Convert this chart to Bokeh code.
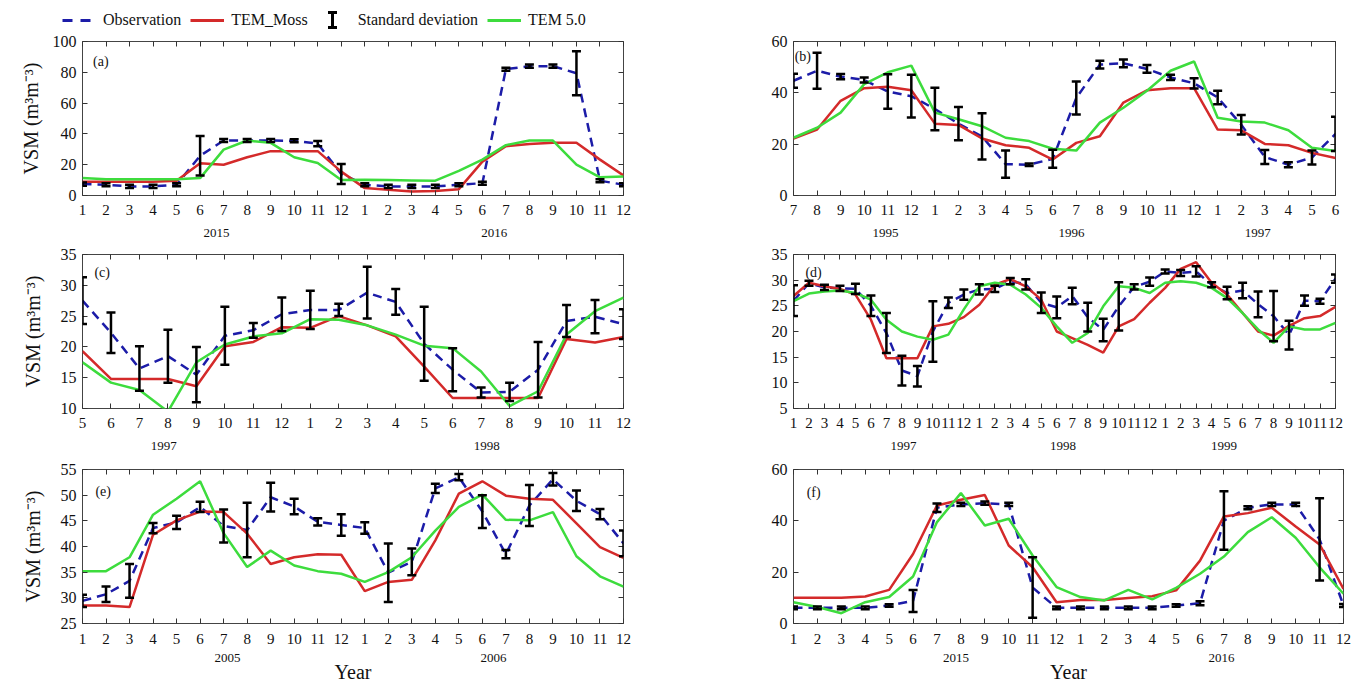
from bokeh.plotting import figure
from bokeh.models import (ColumnDataSource, Whisker, TeeHead, Range1d, LinearAxis,
                          FixedTicker, Label, Legend, LegendItem, Grid)
from bokeh.layouts import column, row
from bokeh.embed import file_html
from bokeh.resources import INLINE

FONT = "Liberation Serif"
OBS_C = "#1c1ca8"
MOSS_C = "#d42a2a"
TEM_C = "#3ddc3d"
YLABEL = "VSM (m³m⁻³)"

# ---------------- data ----------------
M12 = ["1", "2", "3", "4", "5", "6", "7", "8", "9", "10", "11", "12"]

A_months = M12 + M12
A_years = ["2015", "2016"]
A_year_pos = [6.7, 18.5]
A_obs = [7.4, 7, 5.9, 5.9, 7, 25.8, 35.7, 35.7, 35.7, 35.5, 33.7, 14,
         7, 5.9, 5.9, 5.9, 7, 8, 82, 84, 84, 79.4, 9.6, 7]
A_std = [1, 1, 1, 1, 1, 12.8, 1, 1, 1, 1, 1.7, 6.5,
         1, 1, 1, 1, 1, 1, 1, 1, 1, 14.3, 1, 1]
A_moss = [9, 9, 9, 9, 9.5, 21, 20, 24.8, 28.8, 28.8, 28.8, 15.5,
          4.8, 3.7, 2.6, 3, 4.1, 22, 32, 33.5, 34.2, 34.2, 23.3, 13]
A_tem = [11.3, 10.5, 10.5, 10.5, 10.5, 11.3, 29.8, 35.7, 34.2, 24.8, 21.1, 10,
         10.2, 10, 9.8, 9.6, 16, 23.3, 32.7, 35.7, 35.7, 20, 11.8, 12.4]
A_yticks = [0, 20, 40, 60, 80, 100]

B_months = ["7", "8", "9", "10", "11", "12"] + M12 + ["1", "2", "3", "4", "5", "6"]
B_years = ["1995", "1996", "1997"]
B_year_pos = [4.9, 12.8, 20.7]
B_obs = [44.7, 48.6, 46.3, 45, 40.5, 38.7, 33.7, 28, 23, 12.2, 12, 14.3,
         38, 51, 51.5, 49.3, 46, 43.7, 38.2, 27.6, 15, 12, 14.8, 24]
B_std = [2.7, 7, 1, 1, 6.7, 8.3, 8.3, 6.5, 9, 5.3, 0.5, 3.5,
         6.4, 1.5, 1.5, 1.5, 1, 2, 2.6, 3.8, 2.7, 1, 2.7, 6.7]
B_moss = [22.2, 25.7, 36.9, 41.8, 42.4, 41, 28, 27.5, 22.2, 19.6, 18.6, 14,
          20.5, 23.1, 36.2, 41, 41.8, 41.8, 25.7, 25.4, 20.1, 19.6, 16.6, 14.6]
B_tem = [22.5, 26.4, 32.3, 43.4, 48, 50.6, 32.3, 29.7, 27, 22.5, 21.2, 18.2,
         17.5, 28.4, 34.2, 40.8, 48.6, 52.2, 30.3, 28.8, 28.4, 25.4, 18.6, 17.3]
B_yticks = [0, 20, 40, 60]

C_months = ["5", "6", "7", "8", "9", "10", "11", "12"] + M12
C_years = ["1997", "1998"]
C_year_pos = [3.85, 15.2]
C_obs = [27.5, 22.3, 16.5, 18.5, 15.5, 21.8, 22.7, 25.3, 26, 26,
         28.8, 27.3, 20.5, 16.3, 12.6, 12.7, 16.3, 24.2, 24.9, 23.7]
C_std = [3.8, 3.3, 3.6, 4.3, 4.5, 4.7, 1.2, 2.7, 3.1, 1,
         4.2, 2.1, 6, 3.5, 0.8, 1.5, 4.5, 2.6, 2.7, 2.4]
C_moss = [19.3, 14.8, 14.8, 14.8, 13.6, 20.1, 20.8, 23.2, 23.1, 25,
          23.5, 21.7, 16.8, 11.7, 11.7, 11.7, 11.7, 21.3, 20.7, 21.6]
C_tem = [17.5, 14.2, 13, 9.5, 17.5, 20.4, 21.7, 22.2, 24.5, 24.4,
         23.5, 22, 20.2, 19.8, 16, 10.4, 12.8, 22, 25.8, 28]
C_yticks = [10, 15, 20, 25, 30, 35]

D_months = M12 + M12 + M12
D_years = ["1997", "1998", "1999"]
D_year_pos = [8.1, 18.4, 28.8]
D_obs = [26, 29.4, 28.6, 28.4, 28.3, 25, 19.7, 12.4, 11.3, 20, 25.6, 27.2,
         28.2, 28.3, 29.8, 29.2, 25.6, 24.7, 26.9, 22.8, 20.3, 24.9, 28.7, 29.7,
         31.7, 31.4, 31.7, 29.1, 27.5, 28, 25.3, 23, 19.3, 26, 25.9, 30.3]
D_std = [3, 0.5, 0.5, 0.5, 1, 2, 3.9, 2.9, 2, 5.9, 1, 1,
         1, 0.6, 0.6, 1, 2, 2.1, 1.6, 2.8, 2.2, 4.7, 0.5, 0.8,
         0.4, 0.6, 1, 0.5, 1.2, 1.5, 2.5, 4.9, 2.8, 1, 0.5, 0.8]
D_moss = [26.9, 29.5, 28.8, 28.3, 27.2, 22.3, 14.8, 14.8, 14.8, 21, 21.5, 22.8,
          25.2, 29.1, 30.2, 28.8, 26.2, 20, 18.7, 17.4, 15.9, 21, 22.4, 25.6,
          28.5, 32.2, 33.5, 29.5, 27.2, 23.6, 20, 19.2, 21.1, 22.6, 23, 24.8]
D_tem = [25.9, 27.4, 27.8, 28, 27.5, 26.2, 22.3, 20, 19, 18.4, 19.4, 24.3,
         28.8, 29.5, 29.1, 27.2, 24.6, 21, 17.8, 19.7, 24.9, 28.8, 28.5, 27.5,
         29.5, 29.8, 29.5, 28.5, 26.5, 23.6, 20.4, 17.8, 21, 20.4, 20.4, 21.7]
D_yticks = [5, 10, 15, 20, 25, 30, 35]

E_months = M12 + M12
E_years = ["2005", "2006"]
E_year_pos = [7.16, 18.47]
E_obs = [29.4, 30.7, 33.3, 43.6, 44.7, 47.7, 44, 43.2, 49.6, 47.8, 44.8, 44.2,
         43.6, 34.9, 37, 51.3, 53.5, 46.8, 38.5, 48, 53.1, 48.9, 46.3, 40.6]
E_std = [1.2, 1.5, 3.3, 1, 1.3, 1, 3.2, 5.3, 2.8, 1.5, 0.7, 2.1,
         1.1, 5.7, 2.6, 0.9, 0.6, 3.2, 0.8, 4, 1.2, 2, 1, 2.5]
E_moss = [28.5, 28.5, 28.2, 42.3, 45.1, 46.8, 46.7, 42.5, 36.6, 37.9, 38.5, 38.4,
          31.3, 33.1, 33.5, 41.2, 50.3, 52.7, 49.9, 49.3, 49.1, 44.5, 39.9, 37.8]
E_tem = [35.2, 35.2, 37.9, 46.2, 49.3, 52.7, 42.6, 36, 39.2, 36.3, 35.2, 34.7,
         33.1, 35, 37.9, 43.1, 47.7, 50.1, 45.2, 45.1, 46.7, 38.1, 34.2, 32.2]
E_yticks = [25, 30, 35, 40, 45, 50, 55]

F_months = M12 + M12
F_years = ["2015", "2016"]
F_year_pos = [7.8, 18.9]
F_obs = [6.1, 6.1, 6.1, 6.1, 7, 8.8, 45.1, 46.4, 46.9, 46.4, 14, 6.1,
         6.1, 6.1, 6.1, 6.1, 7, 7.9, 40.1, 45.1, 46.4, 46.4, 32.8, 7]
F_std = [0.5, 0.5, 0.5, 0.5, 0.5, 4.3, 1.7, 0.6, 0.6, 0.6, 11.8, 0.5,
         0.5, 0.5, 0.5, 0.5, 0.5, 0.8, 11.4, 0.6, 0.6, 0.6, 16, 0.6]
F_moss = [10, 10, 10, 10.5, 13.1, 27.1, 46, 48.2, 50.1, 30.4, 21.9, 8.3,
          9.2, 9.2, 9.9, 10.6, 12.9, 24.5, 41.7, 43, 45.1, 37.8, 30.8, 13.5]
F_tem = [8.3, 6.4, 4, 8.3, 10.3, 18.3, 39.5, 50.8, 38.2, 40.8, 26.5, 14.2,
         10.3, 9, 13.1, 9.4, 13.9, 19.4, 26.1, 35.6, 41.4, 33.4, 21.9, 11.6]
F_yticks = [0, 20, 40, 60]


def drop_grids(p):
    p.center = [r for r in p.center if not isinstance(r, Grid)]


def hidden_axis(ticks):
    ax = LinearAxis(ticker=FixedTicker(ticks=ticks),
                    major_label_overrides={t: "" for t in ticks})
    ax.major_label_text_font_size = "1px"
    ax.major_label_standoff = 0
    ax.axis_line_color = None
    ax.major_tick_in = 5
    ax.major_tick_out = 0
    ax.major_tick_line_color = "#333333"
    ax.minor_tick_line_color = None
    return ax


def panel(months, years, year_pos, obs, std, moss, tem, yticks, letter, letter_xy,
          width, height, borders, ylabel=False, ylab_standoff=8, xlabel=False,
          month_standoff=9, year_standoff=5):
    n = len(months)
    xs = list(range(1, n + 1))
    p = figure(width=width, height=height, x_range=Range1d(1, n),
               y_range=Range1d(yticks[0], yticks[-1]),
               output_backend="svg", toolbar_location=None,
               x_axis_location=None, y_axis_location=None,
               min_border_left=borders[0], min_border_right=borders[1],
               min_border_top=borders[2], min_border_bottom=borders[3],
               outline_line_color="#444444", outline_line_width=1,
               background_fill_color="white", border_fill_color="white")
    drop_grids(p)

    # bottom month axis
    bx = LinearAxis(ticker=FixedTicker(ticks=xs),
                    major_label_overrides={x: m for x, m in zip(xs, months)})
    bx.axis_line_color = None
    bx.major_tick_in = 5
    bx.major_tick_out = 0
    bx.major_tick_line_color = "#333333"
    bx.minor_tick_line_color = None
    bx.major_label_standoff = month_standoff
    bx.major_label_text_font = FONT
    bx.major_label_text_font_size = "15px"
    bx.major_label_text_color = "#111111"
    p.add_layout(bx, "below")

    # year axis
    yx = LinearAxis(ticker=FixedTicker(ticks=year_pos),
                    major_label_overrides={x: y for x, y in zip(year_pos, years)})
    yx.axis_line_color = None
    yx.major_tick_line_color = None
    yx.minor_tick_line_color = None
    yx.major_label_standoff = year_standoff
    yx.major_label_text_font = FONT
    yx.major_label_text_font_size = "13px"
    yx.major_label_text_color = "#111111"
    if xlabel:
        yx.axis_label = "Year"
        yx.axis_label_standoff = -4
        yx.axis_label_text_font = FONT
        yx.axis_label_text_font_size = "20px"
        yx.axis_label_text_font_style = "normal"
        yx.axis_label_text_color = "#111111"
    p.add_layout(yx, "below")

    # left axis
    ly = LinearAxis(ticker=FixedTicker(ticks=yticks))
    ly.axis_line_color = None
    ly.major_tick_in = 5
    ly.major_tick_out = 0
    ly.major_tick_line_color = "#333333"
    ly.minor_tick_line_color = None
    ly.major_label_standoff = 6
    ly.major_label_text_font = FONT
    ly.major_label_text_font_size = "16px"
    ly.major_label_text_color = "#111111"
    if ylabel:
        ly.axis_label = YLABEL
        ly.axis_label_standoff = ylab_standoff
        ly.axis_label_text_font = FONT
        ly.axis_label_text_font_size = "20px"
        ly.axis_label_text_font_style = "normal"
        ly.axis_label_text_color = "#111111"
    p.add_layout(ly, "left")

    p.add_layout(hidden_axis(xs), "above")
    p.add_layout(hidden_axis(yticks), "right")

    upper = [o + s for o, s in zip(obs, std)]
    lower = [o - s for o, s in zip(obs, std)]
    src = ColumnDataSource(dict(x=xs, obs=obs, moss=moss, tem=tem, upper=upper, lower=lower))

    p.line("x", "obs", source=src, line_color=OBS_C, line_width=2.5, line_dash="9 6")
    p.line("x", "moss", source=src, line_color=MOSS_C, line_width=2.5)
    p.line("x", "tem", source=src, line_color=TEM_C, line_width=2.5)
    w = Whisker(source=src, base="x", upper="upper", lower="lower",
                line_color="black", line_width=2.5, level="overlay",
                upper_head=TeeHead(size=9, line_width=2.5, line_color="black"),
                lower_head=TeeHead(size=9, line_width=2.5, line_color="black"))
    p.add_layout(w)

    p.add_layout(Label(x=letter_xy[0], y=letter_xy[1], text=letter, text_font=FONT,
                       text_font_size="14px", text_baseline="middle",
                       text_color="#111111"))
    return p


pa = panel(A_months, A_years, A_year_pos, A_obs, A_std, A_moss, A_tem, A_yticks,
           "(a)", (1.45, 87), 680, 210, (82, 57, 11, 45), ylabel=True, ylab_standoff=8)
pb = panel(B_months, B_years, B_year_pos, B_obs, B_std, B_moss, B_tem, B_yticks,
           "(b)", (1.05, 54), 675, 210, (113, 20, 11, 45))
pc = panel(C_months, C_years, C_year_pos, C_obs, C_std, C_moss, C_tem, C_yticks,
           "(c)", (1.42, 32.1), 680, 215, (82, 57, 14, 47), ylabel=True, ylab_standoff=14)
pd_ = panel(D_months, D_years, D_year_pos, D_obs, D_std, D_moss, D_tem, D_yticks,
            "(d)", (1.77, 31.5), 675, 215, (113, 20, 14, 47))
pe = panel(E_months, E_years, E_year_pos, E_obs, E_std, E_moss, E_tem, E_yticks,
           "(e)", (1.55, 50.7), 680, 231, (82, 57, 14, 63), ylabel=True, ylab_standoff=14,
           xlabel=True, month_standoff=10, year_standoff=1)
pf = panel(F_months, F_years, F_year_pos, F_obs, F_std, F_moss, F_tem, F_yticks,
           "(f)", (1.55, 51), 675, 231, (113, 12, 14, 63), xlabel=True,
           month_standoff=10, year_standoff=1)

# ---------------- legend strip ----------------
LEG_X = [-10, -9]
LEG_Y = [-10, -10]
lf = figure(width=1355, height=30, x_range=Range1d(0, 1355), y_range=Range1d(0, 30),
            output_backend="svg", toolbar_location=None,
            x_axis_location=None, y_axis_location=None, min_border=0,
            outline_line_color=None)
drop_grids(lf)
r_obs = lf.line(LEG_X, LEG_Y, line_color=OBS_C, line_width=3, line_dash="10 8")
r_moss = lf.line(LEG_X, LEG_Y, line_color=MOSS_C, line_width=3)
r_std = lf.line(LEG_X, LEG_Y, line_alpha=0)
r_tem = lf.line(LEG_X, LEG_Y, line_color=TEM_C, line_width=3)
leg = Legend(items=[LegendItem(label="Observation", renderers=[r_obs]),
                    LegendItem(label="TEM_Moss", renderers=[r_moss]),
                    LegendItem(label="Standard deviation", renderers=[r_std]),
                    LegendItem(label="TEM 5.0", renderers=[r_tem])],
             orientation="horizontal", location=(62, 0),
             glyph_width=34, glyph_height=20, label_standoff=7, spacing=9,
             padding=0, margin=0, border_line_color=None, background_fill_alpha=0,
             label_text_font=FONT, label_text_font_size="16px",
             label_text_color="#111111")
lf.add_layout(leg)
# "I" symbol of the standard-deviation legend entry (placed in the legend's glyph slot)
sd_key = ColumnDataSource(dict(x=[332], lo=[3], hi=[18]))
lf.add_layout(Whisker(source=sd_key, base="x", upper="hi", lower="lo",
                      line_color="black", line_width=3, level="overlay",
                      upper_head=TeeHead(size=9, line_width=3, line_color="black"),
                      lower_head=TeeHead(size=9, line_width=3, line_color="black")))

layout = column(lf, row(pa, pb), row(pc, pd_), row(pe, pf))
open("out.html", "w").write(file_html(layout, INLINE))
